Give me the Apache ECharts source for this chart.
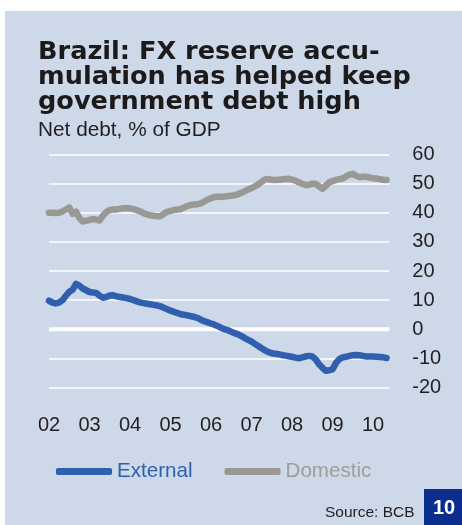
<!DOCTYPE html>
<html>
<head>
<meta charset="utf-8">
<script src="https://cdn.jsdelivr.net/npm/echarts@6/dist/echarts.min.js"></script>
<style>
  html, body { margin: 0; padding: 0; background: #ffffff; }
  #chart { width: 462px; height: 525px; }
</style>
</head>
<body>
<div id="chart"></div>
<script>
// Monthly net debt, % of GDP, Jan 2002 .. May 2010
const firstYear = 2002;
const lastYear = 2010.4;

const external = [
  9.8, 9.2, 8.9, 9.2, 10.0, 11.5, 12.9, 13.6, 15.6, 15.0, 14.0, 13.4,
  12.8, 12.6, 12.5, 11.5, 10.8, 11.1, 11.6, 11.7, 11.3, 11.1, 10.9, 10.7,
  10.4, 10.0, 9.6, 9.2, 9.0, 8.8, 8.6, 8.4, 8.2, 7.9, 7.4, 6.9,
  6.4, 6.0, 5.6, 5.2, 5.0, 4.8, 4.5, 4.3, 3.9, 3.3, 2.8, 2.4,
  2.0, 1.6, 1.1, 0.5, 0.0, -0.3, -0.8, -1.3, -1.7, -2.3, -3.0, -3.6,
  -4.2, -5.0, -5.7, -6.5, -7.2, -7.8, -8.2, -8.4, -8.5, -8.8, -9.0, -9.2,
  -9.4, -9.7, -9.9, -9.6, -9.3, -9.1, -9.3, -10.3, -12.0, -13.2, -14.2, -14.0,
  -13.7, -11.5, -10.2, -9.6, -9.4, -9.1, -8.9, -8.8, -8.9, -9.1, -9.3, -9.3,
  -9.3, -9.4, -9.5, -9.6, -9.8
];

const domestic = [
  40.0, 40.0, 39.9, 40.0, 40.4, 41.0, 41.8, 39.6, 40.3, 38.2, 37.0, 37.2,
  37.5, 37.8, 37.6, 37.3, 39.0, 40.2, 40.9, 41.1, 41.1, 41.3, 41.5, 41.5,
  41.5, 41.2, 40.9, 40.4, 39.8, 39.4, 39.1, 38.9, 38.8, 38.8, 39.6, 40.3,
  40.6, 40.9, 41.1, 41.2, 41.8, 42.3, 42.6, 42.8, 42.9, 43.2, 43.8, 44.5,
  44.9, 45.4, 45.5, 45.4, 45.5, 45.7, 45.8, 46.0, 46.3, 46.8, 47.4, 48.0,
  48.4, 49.0, 49.7, 50.6, 51.4, 51.5, 51.3, 51.2, 51.3, 51.4, 51.5, 51.6,
  51.3, 51.0, 50.4, 49.9, 49.5, 49.6, 49.9, 49.9, 49.0, 48.2, 49.2, 50.4,
  50.8, 51.2, 51.5, 51.7, 52.4, 53.0, 53.3, 52.6, 52.1, 52.3, 52.3, 52.0,
  51.8, 51.7, 51.5, 51.3, 51.2
];

const yearLabels = ['02', '03', '04', '05', '06', '07', '08', '09', '10'];

const seriesNames = ['External', 'Domestic'];
const titleLines = ['Brazil: FX reserve accu-', 'mulation has helped keep', 'government debt high'];

const BLUE = '#2f5fad';
const GREY = '#9a9894';
const INK = '#231f20';

function toPoints(values) {
  return values.map((v, i) => [firstYear + i / 12, v]);
}

const chart = echarts.init(document.getElementById('chart'), null, { renderer: 'canvas' });

chart.setOption({
  animation: false,
  backgroundColor: 'transparent',
  title: [
    {
      text: titleLines.join('\n'),
      left: 38,
      top: 40,
      padding: 0,
      textStyle: {
        fontFamily: 'DejaVu Sans',
        fontWeight: 'bold',
        fontSize: 25.6,
        lineHeight: 25,
        color: '#1c1a1b'
      }
    },
    {
      text: 'Net debt, % of GDP',
      left: 38,
      top: 120,
      padding: 0,
      textStyle: {
        fontFamily: 'Liberation Sans',
        fontWeight: 'normal',
        fontSize: 20.8,
        lineHeight: 20,
        color: INK
      }
    }
  ],
  graphic: [
    {
      type: 'rect',
      z: -10,
      silent: true,
      shape: { x: 5, y: 11, width: 457, height: 514 },
      style: { fill: '#cdd8e9' }
    },
    {
      type: 'text',
      x: 325,
      y: 513,
      style: {
        text: 'Source: BCB',
        fontFamily: 'Liberation Sans',
        fontSize: 15.5,
        fill: INK,
        verticalAlign: 'middle'
      }
    },
    {
      type: 'rect',
      shape: { x: 424, y: 489, width: 38, height: 36 },
      style: { fill: '#0b2e8e' }
    },
    {
      type: 'text',
      x: 444,
      y: 508,
      style: {
        text: '10',
        fontFamily: 'Liberation Sans',
        fontWeight: 'bold',
        fontSize: 20,
        fill: '#ffffff',
        align: 'center',
        verticalAlign: 'middle'
      }
    }
  ],
  legend: {
    left: 56,
    top: 461,
    padding: 0,
    icon: 'roundRect',
    itemWidth: 56,
    itemHeight: 7,
    itemGap: 32,
    textStyle: { fontFamily: 'Liberation Sans', fontSize: 20.6 },
    data: [
      { name: seriesNames[0], textStyle: { color: BLUE } },
      { name: seriesNames[1], textStyle: { color: '#9f9d9a' } }
    ]
  },
  grid: {
    left: 49,
    right: 72.7,
    top: 154.3,
    bottom: 137.3,
    containLabel: false
  },
  xAxis: {
    type: 'value',
    min: firstYear,
    max: lastYear,
    interval: 1,
    axisLine: { show: false },
    axisTick: { show: false },
    splitLine: { show: false },
    axisLabel: {
      margin: 28,
      fontFamily: 'Liberation Sans',
      fontSize: 20,
      color: INK,
      formatter: function (v) {
        const k = Math.round(v - firstYear);
        return Math.abs(v - firstYear - k) < 1e-6 ? (yearLabels[k] || '') : '';
      }
    }
  },
  yAxis: {
    type: 'value',
    position: 'right',
    min: -20,
    max: 60,
    interval: 10,
    axisLine: { show: false },
    axisTick: { show: false },
    axisLabel: {
      margin: 23,
      fontFamily: 'Liberation Sans',
      fontSize: 20,
      color: INK
    },
    splitLine: { show: true, lineStyle: { color: '#ffffff', width: 1.7 } }
  },
  series: [
    {
      name: 'zero',
      type: 'line',
      silent: true,
      z: 1,
      symbol: 'none',
      data: [[firstYear, 0], [lastYear, 0]],
      lineStyle: { color: '#ffffff', width: 4 }
    },
    {
      name: seriesNames[0],
      type: 'line',
      z: 3,
      symbol: 'none',
      data: toPoints(external),
      itemStyle: { color: BLUE },
      lineStyle: { color: BLUE, width: 6.5, cap: 'round', join: 'round' }
    },
    {
      name: seriesNames[1],
      type: 'line',
      z: 3,
      symbol: 'none',
      data: toPoints(domestic),
      itemStyle: { color: GREY },
      lineStyle: { color: GREY, width: 6.5, cap: 'round', join: 'round' }
    }
  ]
});
</script>
</body>
</html>
